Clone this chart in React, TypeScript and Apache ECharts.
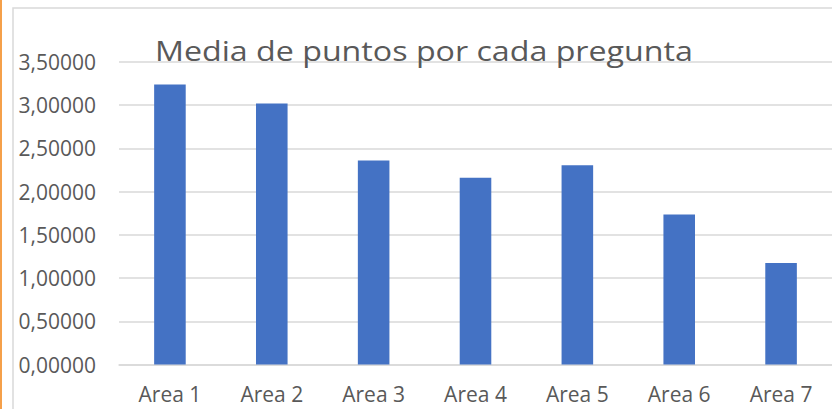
import React, { useEffect, useRef } from "react";
import * as echarts from "echarts";

const categories = ["Area 1", "Area 2", "Area 3", "Area 4", "Area 5", "Area 6", "Area 7"];
const values = [3.24, 3.02, 2.36, 2.16, 2.305, 1.735, 1.175];
const titleText = "Media de puntos por cada pregunta";

export default function App() {
  const ref = useRef<HTMLDivElement>(null);
  useEffect(() => {
    const chart = echarts.init(ref.current!, null, { renderer: "svg" });
    chart.setOption({
      animation: false,
      backgroundColor: "#ffffff",
      grid: { left: 119, right: -6, top: 62, bottom: 44.5, containLabel: false },
      xAxis: {
        type: "category",
        data: categories,
        axisLine: { show: true, lineStyle: { color: "#d9d9d9", width: 1.5 } },
        axisTick: { show: false },
        axisLabel: { color: "#595959", fontSize: 21, fontFamily: "Open Sans", margin: 19 },
      },
      yAxis: {
        type: "value",
        min: 0,
        max: 3.5,
        interval: 0.5,
        axisLine: { show: false },
        axisTick: { show: false },
        splitLine: { lineStyle: { color: "#d9d9d9", width: 1.5 } },
        axisLabel: {
          color: "#595959",
          fontSize: 21,
          fontFamily: "Open Sans",
          margin: 23,
          formatter: (v: number) => v.toFixed(5).replace(".", ","),
        },
      },
      series: [
        {
          type: "bar",
          data: values,
          barWidth: "31%",
          itemStyle: { color: "#4472C4" },
        },
      ],
      graphic: [
        {
          type: "rect",
          shape: { x: 13, y: 8, width: 900, height: 500 },
          style: { fill: "none", stroke: "#d9d9d9", lineWidth: 1.5 },
          silent: true,
        },
        {
          type: "line",
          shape: { x1: 1, y1: 0, x2: 1, y2: 409 },
          style: { stroke: "#F5A04A", lineWidth: 2 },
          silent: true,
        },
        {
          type: "text",
          x: 155,
          y: 50.5,
          scaleX: 1.15,
          style: {
            text: titleText,
            fill: "#595959",
            fontSize: 28,
            fontFamily: "Open Sans",
            verticalAlign: "middle",
            align: "left",
          },
          z: 10,
        },
      ],
    });
    return () => chart.dispose();
  }, []);
  return (
    <div
      ref={ref}
      style={{ position: "fixed", left: 0, top: 0, width: 832, height: 409 }}
    />
  );
}
